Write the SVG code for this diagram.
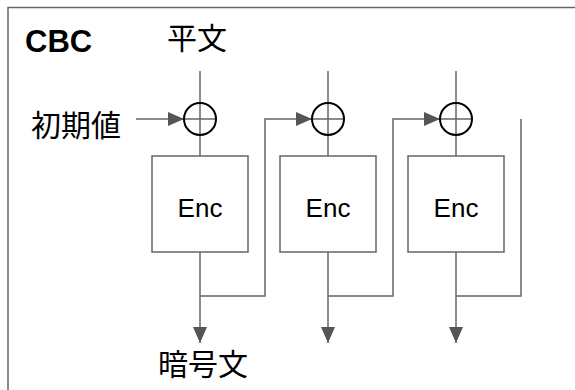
<svg xmlns="http://www.w3.org/2000/svg" width="575" height="390" viewBox="0 0 575 390">
<defs>
<style>
.ln{fill:none;stroke:#666;stroke-width:1.5}
.box{fill:#fff;stroke:#666;stroke-width:1.5}
.xor{fill:none;stroke:#000;stroke-width:2}
.jp{font-family:"Noto Sans CJK JP","Noto Sans CJK SC",sans-serif;font-size:30px;fill:#000}
.en{font-family:"Liberation Sans",Arial,sans-serif;fill:#000}
</style>
<marker id="ah" markerWidth="16" markerHeight="14" refX="16" refY="7" orient="auto" markerUnits="userSpaceOnUse">
<path d="M0,0 L16,7 L0,14 Z" fill="#555"/>
</marker>
</defs>
<rect x="8" y="7.5" width="600" height="420" fill="#fff" stroke="#666" stroke-width="1.5"/>
<g id="title"><text class="en" x="25" y="52" font-size="31" font-weight="bold">CBC</text></g>
<g id="plaintext"><text class="jp" x="197" y="49" text-anchor="middle">平文</text></g>
<g id="iv"><text class="jp" x="76" y="136" text-anchor="middle">初期値</text></g>
<g id="ciphertext"><text class="jp" x="203" y="375" text-anchor="middle">暗号文</text></g>
<g id="connectors">
<line class="ln" x1="200" y1="71" x2="200" y2="156"/>
<line class="ln" x1="328" y1="71" x2="328" y2="156"/>
<line class="ln" x1="456" y1="71" x2="456" y2="156"/>
<line class="ln" x1="136" y1="119" x2="184" y2="119" marker-end="url(#ah)"/>
<line class="ln" x1="200" y1="252" x2="200" y2="343" marker-end="url(#ah)"/>
<line class="ln" x1="328" y1="252" x2="328" y2="343" marker-end="url(#ah)"/>
<line class="ln" x1="456" y1="252" x2="456" y2="343" marker-end="url(#ah)"/>
<polyline class="ln" points="200,296 265,296 265,119 312,119" marker-end="url(#ah)"/>
<polyline class="ln" points="328,296 393,296 393,119 440,119" marker-end="url(#ah)"/>
<polyline class="ln" points="456,296 521,296 521,119"/>
<line class="ln" x1="184" y1="119" x2="216" y2="119"/>
<line class="ln" x1="312" y1="119" x2="344" y2="119"/>
<line class="ln" x1="440" y1="119" x2="472" y2="119"/>
</g>
<g id="xor1"><circle class="xor" cx="200" cy="119" r="16"/></g>
<g id="xor2"><circle class="xor" cx="328" cy="119" r="16"/></g>
<g id="xor3"><circle class="xor" cx="456" cy="119" r="16"/></g>
<g id="enc1"><rect class="box" x="152" y="156" width="96" height="96"/><text class="en" x="200" y="217" font-size="26" text-anchor="middle">Enc</text></g>
<g id="enc2"><rect class="box" x="280" y="156" width="96" height="96"/><text class="en" x="328" y="217" font-size="26" text-anchor="middle">Enc</text></g>
<g id="enc3"><rect class="box" x="408" y="156" width="96" height="96"/><text class="en" x="456" y="217" font-size="26" text-anchor="middle">Enc</text></g>
</svg>
